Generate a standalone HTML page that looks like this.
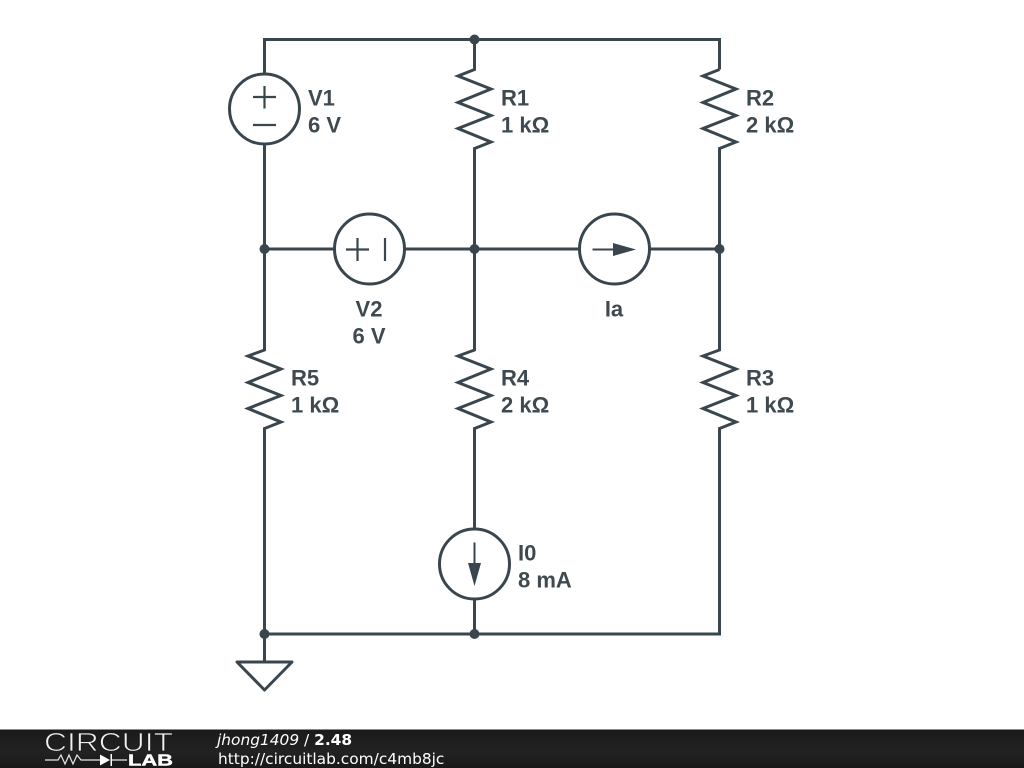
<!DOCTYPE html>
<html><head><meta charset="utf-8"><style>html,body{margin:0;padding:0;background:#fff;width:1024px;height:768px;overflow:hidden}svg{display:block}
.l{font:bold 22px "Liberation Sans",sans-serif;fill:#3f4a50}
.f{font-family:"DejaVu Sans",sans-serif;fill:#fff}</style></head><body>
<svg width="1024" height="768" viewBox="0 0 1024 768" xmlns="http://www.w3.org/2000/svg">
<defs><linearGradient id="g" x1="0" y1="0" x2="0" y2="1"><stop offset="0" stop-color="#1a1a1a"/><stop offset=".6" stop-color="#222"/><stop offset="1" stop-color="#181818"/></linearGradient></defs>
<g fill="none" stroke="#3a464d" stroke-width="3" stroke-linejoin="miter">
<path d="M264.500 74V39.500H719.500V69.500"/>
<path d="M264.500 144V350L248 356 281 369 248 382.500 281 395.500 248 408.500 281 422 264.500 428.500V634H474.500"/>
<path d="M474.500 39.500V69.500L458 76 491 89 458 102.500 491 115.500 458 128.500 491 142 474.500 148.500V350L458 356 491 369 458 382.500 491 395.500 458 408.500 491 422 474.500 428.500V529M474.500 599V634"/>
<path d="M719.500 69.500L703 76 736 89 703 102.500 736 115.500 703 128.500 736 142 719.500 148.500V350L703 356 736 369 703 382.500 736 395.500 703 408.500 736 422 719.500 428.500V634H474.500"/>
<path d="M264.500 249H334M404 249H579M649 249H719.500"/>
<path d="M264.500 634V662"/>
<path d="M237 662H292L264.500 690Z" stroke-linejoin="round"/>
<circle cx="264.500" cy="109" r="35"/>
<circle cx="369.500" cy="249" r="35"/>
<circle cx="614.500" cy="249" r="35"/>
<circle cx="474.500" cy="564" r="35"/>
<g stroke-width="2.200">
<path d="M253 97H276M264.500 86V108.500M253 125H276"/>
<path d="M346 249.500H369M357.500 238V261M385 238V261"/>
</g>
<path d="M592.500 249.500H620" stroke-width="2"/>
<path d="M474.500 542.500V570" stroke-width="2"/>
</g>
<g fill="#3a464d">
<path d="M613 243L636 249.500 613 256Z"/>
<path d="M468 563L474.500 586 481 563Z"/>
<circle cx="474.500" cy="39.500" r="5"/>
<circle cx="264.500" cy="249" r="5"/>
<circle cx="474.500" cy="249" r="5"/>
<circle cx="719.500" cy="249" r="5"/>
<circle cx="264.500" cy="634" r="5"/>
<circle cx="474.500" cy="634" r="5"/>
</g>
<g transform="translate(0 0.600)">
<text class="l" x="308" y="105">V1</text><text class="l" x="308" y="132">6 V</text>
<text class="l" x="501" y="105">R1</text><text class="l" x="501" y="132">1 kΩ</text>
<text class="l" x="746" y="105">R2</text><text class="l" x="746" y="132">2 kΩ</text>
<text class="l" x="369" y="316" text-anchor="middle">V2</text><text class="l" x="369" y="343" text-anchor="middle">6 V</text>
<text class="l" x="614" y="316" text-anchor="middle">Ia</text>
<text class="l" x="291" y="385">R5</text><text class="l" x="291" y="412">1 kΩ</text>
<text class="l" x="501" y="385">R4</text><text class="l" x="501" y="412">2 kΩ</text>
<text class="l" x="746" y="385">R3</text><text class="l" x="746" y="412">1 kΩ</text>
<text class="l" x="518" y="560">I0</text><text class="l" x="518" y="587">8 mA</text>
</g>
<rect x="0" y="729" width="1024" height="39" fill="url(#g)"/>
<rect x="0" y="729" width="1024" height="1" fill="#8a8a8a"/>
<text x="44" y="751" font-family="Liberation Sans,sans-serif" font-size="26" fill="#f0f0f0" stroke="#1c1c1c" stroke-width="0.800" textLength="129" lengthAdjust="spacingAndGlyphs">CIRCUIT</text>
<path d="M45 760H58L61 755 65 764 69 755 73 764 77 755 81 760H100M112 760H127" fill="none" stroke="#e8e8e8" stroke-width="1.200"/>
<path d="M100 754.500L110 760 100 765.500ZM110.500 754H112V766H110.500Z" fill="#fff"/>
<text x="128" y="765.500" font-family="Liberation Sans,sans-serif" font-weight="bold" font-size="15.500" fill="#fff" stroke="#fff" stroke-width="0.400" textLength="45" lengthAdjust="spacingAndGlyphs">LAB</text>
<text class="f" x="217" y="745" font-size="15.400" font-style="italic">jhong1409 <tspan font-style="normal">/</tspan> <tspan font-weight="bold" font-style="normal">2.48</tspan></text>
<text class="f" x="218" y="764" font-size="15.400">http://circuitlab.com/c4mb8jc</text>
</svg></body></html>
